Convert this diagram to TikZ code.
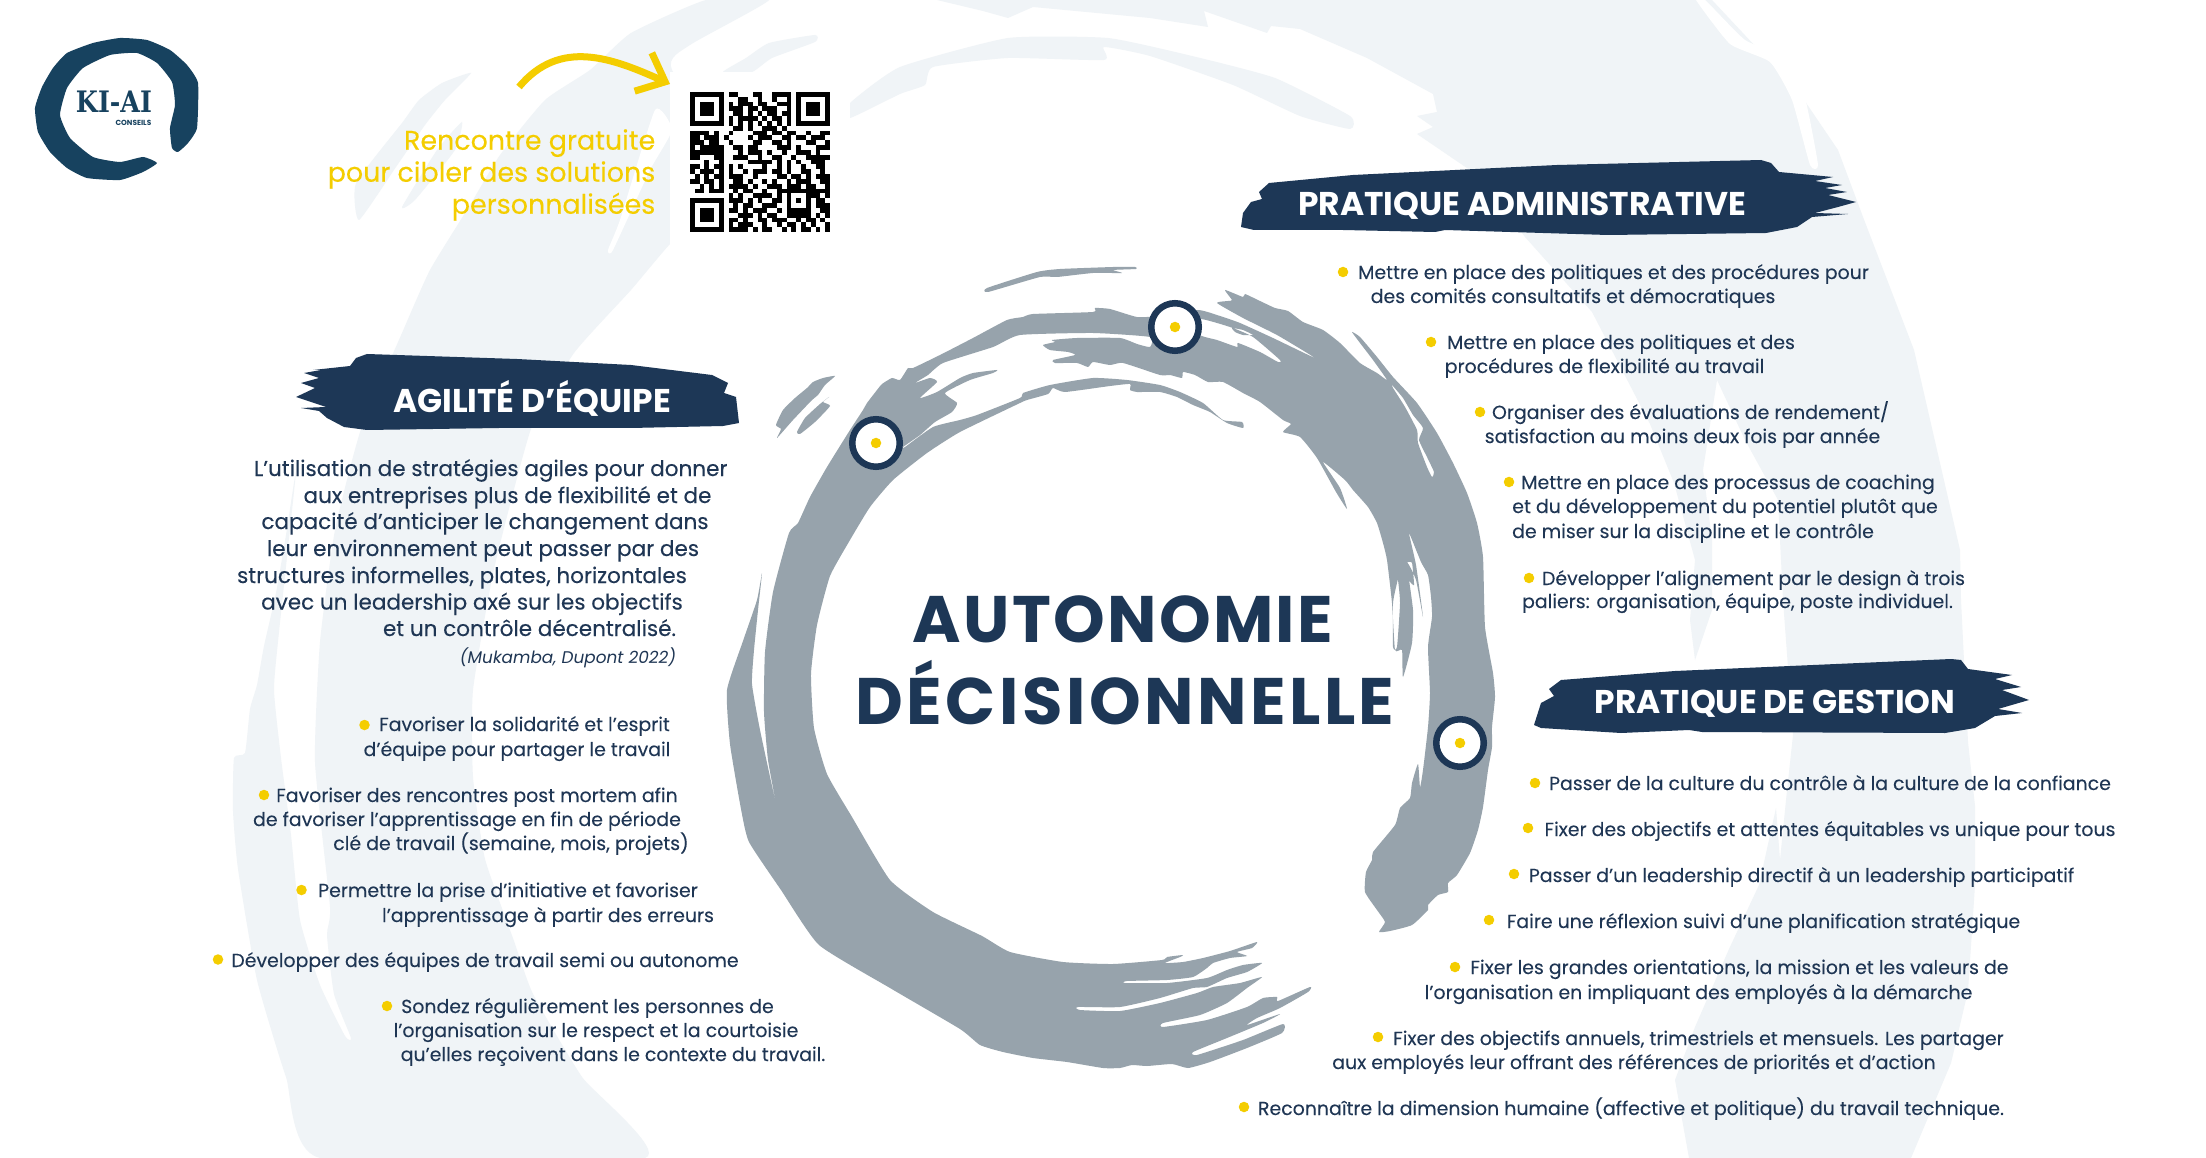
\documentclass[tikz,border=0pt]{standalone}
\usepackage{fontspec}
\setmainfont{Poppins}
\newfontfamily\headfont[LetterSpace=3.5]{Poppins}
\newfontfamily\headwide[LetterSpace=5.3]{Poppins}
\newfontfamily\logofont[FakeStretch=0.86]{DejaVu Serif}
\usepackage{xcolor}
\definecolor{navy}{HTML}{1D3756}
\definecolor{inktext}{HTML}{1F3654}
\definecolor{ringgrey}{HTML}{97A3AC}
\definecolor{sun}{HTML}{F4CD00}
\definecolor{pale}{HTML}{F0F4F7}
\definecolor{logoblue}{HTML}{17425F}
\usetikzlibrary{arrows.meta}
\newcommand{\qrm}{4.83}
\tikzset{
  bodytext/.style={anchor=base, inner sep=0pt, text=inktext, font=\fontsize{5.38}{6}\selectfont\addfontfeatures{FakeBold=0.08}},
  paratext/.style={anchor=base, inner sep=0pt, text=inktext, font=\fontsize{6.12}{7}\selectfont\addfontfeatures{FakeBold=0.2}},
  bannertext/.style={inner sep=0pt, text=white, font=\fontsize{9.35}{10}\bfseries\selectfont},
  bigtitle/.style={anchor=base, inner sep=0pt, text=navy, font=\fontsize{18.7}{20}\bfseries\selectfont},
  sundot/.style={circle, fill=sun, inner sep=0pt, minimum size=0.105cm},
  marker/.style={circle, draw=navy, fill=white, line width=0.065cm, inner sep=0pt, minimum size=0.475cm},
  brush/.style={smooth cycle, tension=0.3},
}
\begin{document}
\begin{tikzpicture}[x=0.01cm,y=-0.01cm]
  \useasboundingbox (0,0) rectangle (2206,1158);
  \fill[white] (0,0) rectangle (2206,1158);

  % Pale strokes behind everything
  \fill[pale] plot[brush] coordinates {(706,0)(631,33)(590,70)(545,100)(500,155)(470,205)(430,270)(402,333)(361,429)(335,530)(320,642)(315,762)(330,907)(327,935)(334,994)(351,1038)(345,1036)(320,985)(300,920)(291,835)(281,758)(274,690)(279,632)(296,472)(286,535)(276,593)(264,646)(257,685)(250,709)(245,753)(234,758)(233,811)(238,869)(257,980)(286,1077)(320,1158)(645,1158)(582,1077)(533,994)(514,941)(485,859)(473,777)(473,690)(494,569)(531,429)(574,353)(631,290)(671,243)(720,200)(760,200)(672,70)(690,45)(769,0)};
  \fill[pale] plot[brush] coordinates {(471,73)(442,83)(419,100)(402,123)(356,183)(359,220)(396,167)(425,125)(445,100)};
  \fill[pale] plot[brush] coordinates {(462,122)(437,150)(402,207)(415,200)(455,150)};
  \fill[pale] plot[brush] coordinates {(815,35)(769,43)(746,58)(723,72)(752,72)(772,58)(815,42)};
  \fill[white] plot[brush] coordinates {(655,110)(620,220)(608,250)(613,250)(650,170)(672,130)};
  \fill[pale] (937,0) -- (983,11) -- (1008,18) -- (1033,7) -- (1150,18) -- (1208,27) -- (1204,11) -- (1267,33) -- (1271,26) -- (1300,29) -- (1367,58) -- (1433,94) -- (1437,112) -- (1417,116) -- (1433,127) -- (1417,134) -- (1483,179) -- (1525,237) -- (1592,312) -- (1650,424) -- (1674,483) -- (1695,560) -- (1690,620) -- (1695,660) -- (1712,610) -- (1712,540) -- (1703,470) -- (1717,380) -- (1745,440) -- (1778,500) -- (1783,600) -- (1793,735) -- (1786,800) -- (1780,860) -- (1776,808) -- (1759,885) -- (1729,949) -- (1695,1027) -- (1675,1080) -- (1689,1158) -- (1911,1158) -- (1951,1063) -- (1968,991) -- (1975,885) -- (1975,806) -- (1968,742) -- (1961,600) -- (1960,550) -- (1914,350) -- (1863,217) -- (1838,150) -- (1800,94) -- (1712,0) -- cycle;
  \fill[white] plot[brush] coordinates {(1696,0)(1705,0)(1745,40)(1785,58)(1805,98)(1818,165)(1810,165)(1792,100)(1770,62)(1730,44)};
  \fill[pale] plot[brush] coordinates {(850,103)(900,67)(1008,38)(1108,38)(1192,56)(1275,78)(1350,116)(1350,129)(1300,116)(1233,85)(1150,56)(1104,47)(1104,60)(1008,58)(933,67)(925,85)(900,94)(850,118)};
  \fill[white] (670,72) rectangle (850,245);

  % Brush ring
  \fill[ringgrey, even odd rule]
    plot[brush] coordinates {(798,523)(810,497)(827,467)(850,430)(863,410)(867,403)(877,390)(882,384)(892,378)(900,380)(908,368)(913,368)(940,355)(973,338)(1007,320)(1023,317)(1033,314)(1093,312)(1095,308)(1110,309)(1137,317)(1160,316)(1198,310)(1220,316)(1240,323)(1273,338)(1315,358)(1277,335)(1243,318)(1217,303)(1228,301)(1232,300)(1225,290)(1243,297)(1245,294)(1260,301)(1275,308)(1288,311)(1303,322)(1323,330)(1340,343)(1360,363)(1377,373)(1387,380)(1373,360)(1360,343)(1352,332)(1360,337)(1377,357)(1393,377)(1417,403)(1437,433)(1453,463)(1467,493)(1477,523)(1483,557)(1485,627)(1493,673)(1495,697)(1492,727)(1492,747)(1488,770)(1483,807)(1478,830)(1470,853)(1457,875)(1448,883)(1448,892)(1438,895)(1428,905)(1428,910)(1412,925)(1390,931)(1379,932)(1385,922)(1377,910)(1365,892)(1366,872)(1372,860)(1373,852)(1395,825)(1400,808)(1410,798)(1412,783)(1418,764)(1420,787)(1423,770)(1428,727)(1430,693)(1428,647)(1432,617)(1431,597)(1428,575)(1421,562)(1409,533)(1416,565)(1423,617)(1416,580)(1407,563)(1413,610)(1412,643)(1403,677)(1402,650)(1395,650)(1392,603)(1387,560)(1383,543)(1377,523)(1368,507)(1353,490)(1345,480)(1323,462)(1340,488)(1347,509)(1336,492)(1317,458)(1300,437)(1283,432)(1291,424)(1283,420)(1260,402)(1243,393)(1223,382)(1208,382)(1195,375)(1183,372)(1182,378)(1170,375)(1160,375)(1123,363)(1110,365)(1093,362)(1088,367)(1077,363)(1055,363)(1053,360)(1075,355)(1068,352)(1050,350)(1043,345)(1055,342)(1052,340)(1077,338)(1120,338)(1137,344)(1150,347)(1150,337)(1093,333)(1020,335)(993,347)(943,363)(928,375)(915,383)(930,378)(937,382)(920,398)(937,392)(960,378)(973,373)(997,370)(993,373)(970,380)(945,393)(957,403)(952,412)(935,422)(920,435)(903,447)(905,447)(933,427)(960,420)(977,415)(1020,398)(1023,393)(1050,385)(1093,378)(1127,380)(1160,385)(1180,392)(1203,403)(1223,420)(1242,422)(1243,428)(1227,423)(1210,412)(1193,405)(1177,397)(1160,392)(1137,392)(1130,390)(1130,384)(1110,386)(1065,392)(1053,388)(1048,394)(1027,400)(1020,403)(960,432)(927,453)(893,480)(870,507)(850,540)(830,576)(817,625)(811,674)(814,728)(827,774)(852,817)(890,880)(933,912)(982,936)(1010,952)(1063,962)(1113,964)(1162,960)(1167,957)(1183,955)(1180,957)(1165,963)(1183,962)(1203,958)(1230,951)(1257,942)(1252,948)(1237,952)(1247,956)(1230,958)(1213,963)(1207,968)(1193,977)(1167,980)(1127,981)(1125,983)(1167,983)(1207,978)(1227,970)(1243,965)(1262,963)(1247,972)(1227,978)(1207,987)(1193,988)(1160,998)(1120,1007)(1078,1007)(1080,1010)(1120,1011)(1160,1003)(1197,993)(1213,987)(1240,983)(1262,977)(1247,988)(1227,1003)(1200,1015)(1163,1023)(1163,1027)(1207,1020)(1247,1007)(1263,998)(1277,997)(1278,1001)(1310,987)(1308,992)(1280,1008)(1257,1018)(1247,1025)(1280,1014)(1263,1023)(1227,1038)(1193,1052)(1197,1055)(1243,1040)(1283,1024)(1282,1033)(1247,1048)(1210,1062)(1188,1068)(1172,1064)(1147,1066)(1132,1065)(1120,1068)(1103,1068)(1067,1062)(1033,1058)(1003,1052)(980,1045)(960,1029)(890,988)(819,945)(781,890)(749,842)(741,809)(730,744)(727,690)(743,641)(757,600)(762,573)(758,610)(754,650)(752,684)(760,730)(776,804)(768,760)(764,712)(765,652)(773,592)(789,533)}
    plot[brush] coordinates {(1200,319)(1230,327)(1253,337)(1280,360)(1278,362)(1260,352)(1238,343)(1237,347)(1217,340)(1200,335)}
    plot[brush] coordinates {(1232,328)(1243,330)(1253,335)(1243,335)(1235,332)}
    plot[brush] coordinates {(1392,385)(1403,398)(1413,415)(1423,428)(1419,440)(1427,457)(1434,472)(1432,477)(1427,467)(1418,443)(1417,430)(1405,407)(1393,388)}
    plot[brush] coordinates {(1398,580)(1400,603)(1397,647)(1393,647)(1393,603)(1397,583)}
    plot[brush] coordinates {(1407,563)(1412,563)(1414,585)(1409,580)};
  \fill[ringgrey] plot[brush] coordinates {(835,376)(823,378)(813,382)(807,388)(795,398)(783,410)(776,425)(781,429)(777,438)(793,420)(812,400)(818,395)(825,385)};
  \fill[ringgrey] plot[brush] coordinates {(829,397)(823,402)(830,406)(815,422)(800,434)(797,432)(805,418)(820,404)};
  \fill[ringgrey] plot[brush] coordinates {(987,288)(1037,272)(1060,269)(1113,267)(1135,267)(1136,269)(1113,270)(1122,273)(1093,273)(1057,277)(1040,277)(988,292)};

  % Markers on the ring
  \node[marker] (markerleft) at (876,443) {};
  \node[marker] (markertop) at (1175,327) {};
  \node[marker] (markerright) at (1460,743) {};
  \foreach \m in {markerleft,markertop,markerright}
    \node[sundot] (\m dot) at (\m) {};

  % Banners
  \fill[navy] (356,358) -- (367,354) -- (517,359) -- (631,365) -- (712,375) -- (728,383) -- (724,393) -- (736,397) -- (739,423) -- (723,426) -- (631,428) -- (499,428) -- (367,430) -- (344,427) -- (327,418) -- (319,411) -- (301,408) -- (326,407) -- (296,397) -- (315,388) -- (301,383) -- (319,378) -- (304,373) -- (321,370) -- (313,370) -- (350,366) -- cycle;
  \fill[navy] (1241,227) -- (1243,213) -- (1251,202) -- (1262,199) -- (1259,192) -- (1269,183) -- (1353,175) -- (1557,165) -- (1761,160) -- (1771,163) -- (1779,172) -- (1833,177) -- (1815,181) -- (1842,185) -- (1825,188) -- (1847,192) -- (1828,195) -- (1856,202) -- (1838,207) -- (1815,213) -- (1848,214) -- (1812,217) -- (1797,227) -- (1766,233) -- (1608,235) -- (1445,230) -- (1435,232) -- (1343,230) -- (1254,230) -- cycle;
  \fill[navy] (1534,725) -- (1541,703) -- (1554,696) -- (1549,689) -- (1561,680) -- (1675,671) -- (1951,659) -- (1961,660) -- (1968,669) -- (2012,675) -- (1995,679) -- (2021,687) -- (2002,690) -- (2029,700) -- (1998,709) -- (2022,713) -- (1995,716) -- (1975,728) -- (1945,733) -- (1702,732) -- (1689,730) -- (1621,733) -- (1541,728) -- cycle;
  \node[bannertext] (agilite) at (532,398) {AGILITÉ D’ÉQUIPE};
  \node[bannertext] (admin) at (1522,206) {PRATIQUE ADMINISTRATIVE};
  \node[bannertext] (gestion) at (1775,704) {PRATIQUE DE GESTION};

  % Title
  \node[bigtitle, font=\headfont\fontsize{18.7}{20}\bfseries\selectfont] (titleone) at (1123,642) {AUTONOMIE};
  \node[bigtitle, font=\headwide\fontsize{18.7}{20}\bfseries\selectfont] (titletwo) at (1125,724) {DÉCISIONNELLE};

  % Logo
  \fill[logoblue] plot[brush] coordinates {(172,148)(178,152)(188,143)(197,128)(198,83)(187,65)(170,50)(147,40)(120,38)(93,43)(67,53)(53,68)(42,87)(35,108)(38,132)(50,152)(67,168)(87,178)(120,180)(143,172)(157,163)(143,157)(120,162)(93,157)(70,138)(60,115)(67,88)(83,68)(110,55)(137,53)(157,63)(172,82)(175,105)(170,128)};
  \node[text=logoblue, inner sep=0pt, font=\logofont\fontsize{8.4}{9}\bfseries\selectfont] (logoname) at (114,102) {KI-AI};
  \node[text=logoblue, inner sep=0pt, font=\fontsize{2.1}{3}\bfseries\selectfont, anchor=east] (logosub) at (152,122.5) {CONSEILS};

  % Meeting offer
  \node[anchor=east, align=right, inner sep=0pt, text=sun, font=\fontsize{7.65}{9.1}\selectfont\addfontfeatures{FakeBold=0.2}] (offer) at (656,175) {Rencontre gratuite\\pour cibler des solutions\\personnalisées};
  \coordinate (arrowstart) at (519,87);
  \coordinate (arrowend) at (670,84);
  \draw[sun, line width=0.07cm, -{Straight Barb[length=0.24cm,width=0.42cm]}] (arrowstart) .. controls (560,38) and (612,58) .. (arrowend);

  % QR code
  \foreach \qx/\qy in {0/0,22/0,0/22} {
    \fill[black] ({690+\qrm*\qx},{92+\qrm*\qy}) rectangle +({7*\qrm},{7*\qrm});
    \fill[white] ({690+\qrm*(\qx+1)},{92+\qrm*(\qy+1)}) rectangle +({5*\qrm},{5*\qrm});
    \fill[black] ({690+\qrm*(\qx+2)},{92+\qrm*(\qy+2)}) rectangle +({3*\qrm},{3*\qrm});
  }
  \foreach \r/\runs in {0/{8/2,13/2,17/4},1/{10/2,14/1,17/1,20/1},2/{8/1,10/3,14/2,18/3},3/{8/3,12/2,15/3,20/1},4/{9/2,12/1,14/1,16/2,19/2},5/{8/1,10/4,15/1,17/2,20/1},6/{8/1,10/1,12/1,14/1,16/1,18/1,20/1},7/{9/2,12/1,15/3,19/1},8/{0/4,5/1,8/1,13/3,17/2,20/2,24/1,27/2},9/{0/2,3/3,7/1,12/1,14/3,19/2,22/2,25/3},10/{0/3,4/2,8/1,13/2,17/2,20/1,24/2,28/1},11/{0/1,2/5,9/2,12/2,18/3,22/1,26/3},12/{0/6,6/1,10/1,12/3,16/1,19/1,22/3,26/1},13/{0/2,5/2,9/3,14/1,17/2,21/1,24/5},14/{3/1,6/1,12/5,18/1,20/1,22/1,25/3},15/{0/2,3/1,5/2,8/1,10/1,15/1,18/1,20/1,23/1,26/2},16/{0/1,2/3,6/1,8/1,11/1,13/3,17/2,20/1,23/2,27/1},17/{1/1,3/1,5/2,8/3,13/1,18/2,21/2,24/1,26/3},18/{0/2,3/2,6/1,9/2,12/1,15/1,17/1,20/1,22/3,27/2},19/{2/1,4/1,6/1,8/4,13/1,16/3,20/3,24/2,28/1},20/{1/2,4/3,9/1,11/2,15/1,18/2,25/4},21/{8/1,10/1,13/4,18/1,25/2,28/1},22/{8/3,12/1,14/1,17/2,26/2},23/{9/1,11/2,15/3,26/3},24/{8/2,11/1,13/3,18/1,27/2},25/{10/3,14/1,16/2,20/5,26/1,28/1},26/{8/2,11/1,14/2,17/3,22/1,24/2,27/1},27/{8/1,10/3,15/1,18/1,20/2,23/1,25/1,28/1},28/{8/4,13/1,15/2,19/1,21/1,23/2,26/1,28/1}}
    \foreach \c/\w in \runs
      \fill[black] ({690+\qrm*\c},{92+\qrm*\r}) rectangle +({\qrm*\w},\qrm);
  \fill[black] ({690+\qrm*20},{92+\qrm*20}) rectangle +({5*\qrm},{5*\qrm});
  \fill[white] ({690+\qrm*21},{92+\qrm*21}) rectangle +({3*\qrm},{3*\qrm});
  \fill[black] ({690+\qrm*22},{92+\qrm*22}) rectangle +(\qrm,\qrm);

  % Left paragraph
  \foreach \x/\y/\txt [count=\n] in {
    490.75/476/{L’utilisation de stratégies agiles pour donner},
    507.5/503/{aux entreprises plus de flexibilité et de},
    485/529/{capacité d’anticiper le changement dans},
    483/556/{leur environnement peut passer par des},
    462/583/{structures informelles, plates, horizontales},
    472/609.5/{avec un leadership axé sur les objectifs},
    529.5/636/{et un contrôle décentralisé.}}
    \node[paratext] (para\n) at (\x,\y) {\txt};
  \node[anchor=base, inner sep=0pt, text=inktext, font=\fontsize{4.8}{5}\itshape\selectfont] (source) at (568,663) {(Mukamba, Dupont 2022)};

  % Left list
  \foreach \x/\y/\txt [count=\n] in {
    524.5/731/{Favoriser la solidarité et l’esprit},
    517/756/{d’équipe pour partager le travail},
    477/802/{Favoriser des rencontres post mortem afin},
    467/826/{de favoriser l’apprentissage en fin de période},
    511/850/{clé de travail (semaine, mois, projets)},
    508/897/{Permettre la prise d’initiative et favoriser},
    548/922/{l’apprentissage à partir des erreurs},
    485/967/{Développer des équipes de travail semi ou autonome},
    587.5/1013/{Sondez régulièrement les personnes de},
    596/1037/{l’organisation sur le respect et la courtoisie},
    613/1061/{qu’elles reçoivent dans le contexte du travail.}}
    \node[bodytext] (agil\n) at (\x,\y) {\txt};
  \foreach \x/\y [count=\n] in {364.5/725,264/795,301.5/890,218/959.5,387/1006}
    \node[sundot] (agildot\n) at (\x,\y) {};

  % Right upper list
  \foreach \x/\y/\txt [count=\n] in {
    1613.5/279/{Mettre en place des politiques et des procédures pour},
    1573/303/{des comités consultatifs et démocratiques},
    1621/349/{Mettre en place des politiques et des},
    1604.5/373/{procédures de flexibilité au travail},
    1690.5/419/{Organiser des évaluations de rendement/},
    1682.5/443/{satisfaction au moins deux fois par année},
    1728/489/{Mettre en place des processus de coaching},
    1725/513/{et du développement du potentiel plutôt que},
    1693/538/{de miser sur la discipline et le contrôle},
    1753.5/585/{Développer l’alignement par le design à trois},
    1737.5/608/{paliers: organisation, équipe, poste individuel.}}
    \node[bodytext] (adm\n) at (\x,\y) {\txt};
  \foreach \x/\y [count=\n] in {1343/272,1431/342,1480/412,1509/482,1529/578}
    \node[sundot] (admdot\n) at (\x,\y) {};

  % Right lower list
  \foreach \x/\y/\txt [count=\n] in {
    1830/790/{Passer de la culture du contrôle à la culture de la confiance},
    1830/836/{Fixer des objectifs et attentes équitables vs unique pour tous},
    1801.5/882/{Passer d’un leadership directif à un leadership participatif},
    1763.5/928/{Faire une réflexion suivi d’une planification stratégique},
    1739.5/974/{Fixer les grandes orientations, la mission et les valeurs de},
    1698.5/999/{l’organisation en impliquant des employés à la démarche},
    1698.5/1045/{Fixer des objectifs annuels, trimestriels et mensuels. Les partager},
    1634/1069/{aux employés leur offrant des références de priorités et d’action},
    1631/1115/{Reconnaître la dimension humaine (affective et politique) du travail technique.}}
    \node[bodytext] (ges\n) at (\x,\y) {\txt};
  \foreach \x/\y [count=\n] in {1535/783,1528/828,1514/874,1489/920,1455/967,1378/1037,1244/1107}
    \node[sundot] (gesdot\n) at (\x,\y) {};
\end{tikzpicture}
\end{document}
